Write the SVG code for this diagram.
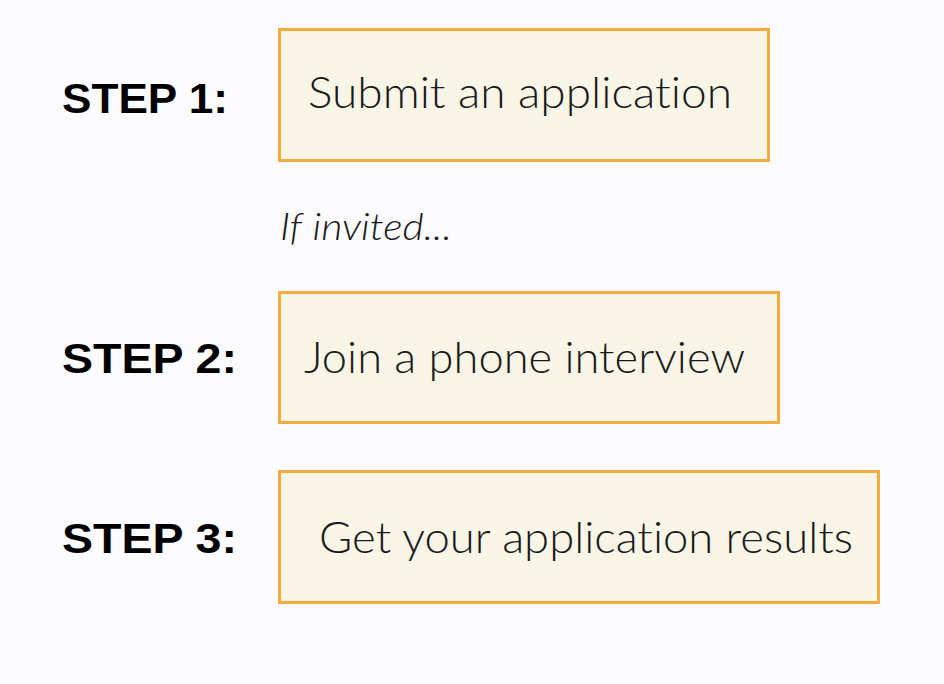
<svg xmlns="http://www.w3.org/2000/svg" width="944" height="684" viewBox="0 0 944 684">
<style>
.bg{fill:#fcfcfe}
.box{fill:#f9f5e7;stroke:#f3ac3d;stroke-width:3}
.step{font-family:"Liberation Sans",Arial,sans-serif;font-weight:bold;font-size:43px;fill:#000}
.lbl{font-family:Lato,"Noto Sans",sans-serif;font-weight:300;font-size:44px;fill:#1a1a1a;font-variant-ligatures:none;font-feature-settings:"liga" 0}
.note{font-family:Lato,"Noto Sans",sans-serif;font-weight:300;font-style:italic;font-size:37px;fill:#1a1a1a;font-variant-ligatures:none}
</style>
<rect class="bg" x="0" y="0" width="944" height="684"/>
<g id="step1">
<text class="step" x="62" y="113" textLength="166" lengthAdjust="spacingAndGlyphs">STEP 1:</text>
<rect class="box" x="279.5" y="29.5" width="489" height="131"/>
<text class="lbl" x="308" y="108" textLength="424" lengthAdjust="spacingAndGlyphs">Submit an application</text>
</g>
<g id="note">
<text class="note" x="280" y="240" textLength="172" lengthAdjust="spacingAndGlyphs">If invited...</text>
</g>
<g id="step2">
<text class="step" x="62" y="373" textLength="175" lengthAdjust="spacingAndGlyphs">STEP 2:</text>
<rect class="box" x="279.5" y="292.5" width="499" height="130"/>
<text class="lbl" x="304" y="373" textLength="441" lengthAdjust="spacingAndGlyphs">Join a phone interview</text>
</g>
<g id="step3">
<text class="step" x="62" y="553" textLength="175" lengthAdjust="spacingAndGlyphs">STEP 3:</text>
<rect class="box" x="279.5" y="471.5" width="599" height="131"/>
<text class="lbl" x="319" y="553" textLength="534" lengthAdjust="spacingAndGlyphs">Get your application results</text>
</g>
<g id="connectors"></g>
</svg>
